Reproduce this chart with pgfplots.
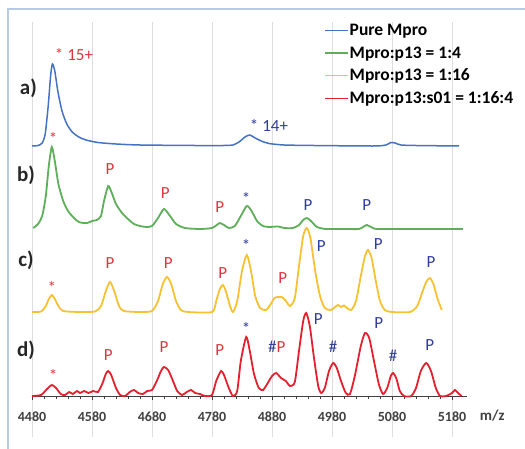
\documentclass[border=0pt]{standalone}
\usepackage{fontspec}
\setmainfont{Carlito}
\usepackage{pgfplots}
\pgfplotsset{compat=1.18}

\definecolor{cBlue}{HTML}{4472C4}
\definecolor{cGreen}{HTML}{5EAE5A}
\definecolor{cYellow}{HTML}{F6C232}
\definecolor{cRed}{HTML}{E4202E}
\definecolor{lRed}{HTML}{E0353F}
\definecolor{lBlue}{HTML}{2F3D9C}
\definecolor{frameC}{HTML}{B8CAE4}

% spectra, stacked with fixed offsets (a: 250, b: 167, c: 84, d: 0)
\pgfplotstableread{
mz y
4480 250
4490 250.5
4497 253
4502 262
4507 290
4511 320
4514 332
4518 325
4523 305
4530 285
4538 272
4547 264
4558 259
4570 256
4590 253.5
4620 252
4660 251
4750 250.5
4800 250.5
4815 251
4825 254
4835 259
4843 261
4852 258
4862 255
4875 252.5
4900 251
4950 250.5
5050 250
5070 251
5078 253.5
5085 253
5095 251
5120 250.5
5192 250
}\pure

\pgfplotstableread{
mz y
4482 168
4490 172
4497 180
4503 200
4508 230
4513 249
4518 235
4524 212
4532 195
4540 185
4550 178
4558 174
4566 173
4572 173
4580 175
4588 176
4595 180
4600 195
4607 210
4613 203
4620 192
4630 183
4640 177
4650 172
4660 170
4670 169
4680 170
4690 178
4700 187
4710 180
4720 172
4735 168
4760 167
4780 168
4788 171
4793 173
4800 171
4808 168
4818 170
4828 180
4838 190
4846 185
4855 175
4865 170
4875 169
4890 169.5
4900 168
4915 168
4925 171
4932 176
4938 178
4945 175
4955 169
4970 167
5000 167
5025 167
5033 169.5
5038 171
5045 169
5055 167
5100 167
5198 167
}\mixA

\pgfplotstableread{
mz y
4480 84
4495 84.5
4503 90
4508 97
4513 101
4518 97
4524 90
4532 85
4560 84
4585 84.5
4595 90
4603 105
4610 114
4617 105
4625 90
4633 85
4660 84
4680 85
4690 95
4698 112
4705 119
4712 112
4720 95
4728 86
4740 84
4780 84
4787 95
4793 107
4798 111
4803 105
4810 90
4815 84
4822 95
4830 125
4838 141
4845 125
4852 100
4860 88
4870 86
4878 92
4884 98
4890 99
4896 99
4902 96
4910 90
4918 98
4925 130
4932 160
4938 168
4944 158
4952 125
4960 100
4968 88
4978 86
4985 89
4990 91
4995 89
5000 90.5
5005 88
5012 86
5020 95
5028 120
5035 140
5040 146
5046 138
5053 115
5060 95
5068 86
5080 84
5110 84
5122 90
5130 103
5137 114
5143 118
5149 112
5156 97
5163 86
}\mixB

\pgfplotstableread{
mz y
4480 0
4495 1
4505 7
4513 11
4520 8
4528 2
4535 1
4542 4
4548 2
4555 5
4560 3
4567 5
4574 3
4582 5
4590 4
4597 12
4603 22
4607 25
4612 21
4620 8
4627 1
4635 0
4643 4
4650 6
4657 3
4665 2
4672 5
4680 6
4688 15
4695 25
4700 29
4707 26
4715 15
4722 5
4730 1
4738 4
4745 6
4752 3
4760 2
4768 0
4780 1
4787 15
4795 25
4800 21
4808 8
4815 0
4822 5
4828 35
4837 59
4843 45
4850 22
4858 8
4865 6
4872 12
4880 20
4887 23
4895 18
4903 15
4910 10
4918 14
4925 45
4932 75
4937 83
4943 70
4950 38
4957 10
4962 3
4968 8
4975 25
4982 33
4988 28
4995 15
5003 3
5010 2
5018 20
5028 50
5035 63
5042 58
5050 35
5058 12
5065 2
5072 8
5078 20
5082 23
5087 18
5093 5
5100 0
5112 0
5120 8
5128 25
5137 33
5145 25
5153 8
5160 0
5170 0
5180 3
5185 6
5190 3
5196 0
}\mixC

\begin{document}
\begin{tikzpicture}
\useasboundingbox (0,0) rectangle (525pt,-449pt);
\draw[frameC, line width=1.2pt] (8pt,-449pt) -- (8pt,-9pt) -- (525pt,-9pt);
\begin{axis}[
  at={(32pt,-437pt)}, anchor=south west,
  scale only axis, width=435pt, height=415pt,
  xmin=4480, xmax=5205, ymin=-41, ymax=374,
  axis x line=middle, axis y line=none,
  axis line style={-, draw=black!75, line width=0.8pt},
  xtick={4480,4580,...,5180}, minor x tick num=4,
  tick align=outside, major tick length=4pt, minor tick length=3pt,
  tick style={black!75, line width=0.8pt},
  xmajorgrids, major grid style={black!13, line width=0.8pt},
  xticklabel style={font=\fontsize{14}{14}\selectfont\bfseries, text=black!75, yshift=-8pt},
  /pgf/number format/.cd, 1000 sep={}, assume math mode=true,
  /pgfplots/.cd,
  clip=false,
  legend style={at={(axis description cs:0.672,1.0)}, anchor=north west, draw=none, fill=none,
    font=\fontsize{17.5}{17.5}\selectfont\bfseries,
    row sep=5.5pt, inner sep=0pt, nodes={inner xsep=1pt}},
  legend cell align=left,
  legend image code/.code={\draw[#1, line width=1.2pt] (0pt,0pt) -- (23pt,0pt);},
]
\addplot[cBlue, line width=1.5pt, smooth, tension=0.4] table {\pure};
\addlegendentry{Pure Mpro}
\addplot[cGreen, line width=1.8pt, smooth, tension=0.4] table {\mixA};
\addlegendentry{Mpro:p13 = 1:4}
\addplot[cYellow, line width=1.8pt, smooth, tension=0.4] table {\mixB};
\addlegendentry{Mpro:p13 = 1:16}
\addplot[cRed, line width=1.8pt, smooth, tension=0.4] table {\mixC};
\addlegendentry{Mpro:p13:s01 = 1:16:4}

% panel labels
\begin{scope}[every node/.style={font=\fontsize{21}{21}\selectfont\bfseries, text=black!85}]
\node at (axis cs:4474,308) {a)};
\node at (axis cs:4470,221) {b)};
\node at (axis cs:4470,136) {c)};
\node at (axis cs:4470,46) {d)};
\end{scope}

% peak annotations
\begin{scope}[every node/.style={font=\fontsize{17}{17}\selectfont}]
\node[text=lRed] at (axis cs:4550,341) {* 15+};
\node[text=lBlue] at (axis cs:4875,271) {* 14+};
% b
\node[text=lRed] at (axis cs:4515,258) {*};
\node[text=lRed] at (axis cs:4610,227) {P};
\node[text=lRed] at (axis cs:4702,203) {P};
\node[text=lRed] at (axis cs:4793,189) {P};
\node[text=lBlue] at (axis cs:4837,198) {*};
\node[text=lBlue] at (axis cs:4940,191) {P};
\node[text=lBlue] at (axis cs:5038,191) {P};
% c
\node[text=lRed] at (axis cs:4513,109) {*};
\node[text=lRed] at (axis cs:4610,133) {P};
\node[text=lRed] at (axis cs:4707,133) {P};
\node[text=lRed] at (axis cs:4798,123) {P};
\node[text=lBlue] at (axis cs:4837,151) {*};
\node[text=lRed] at (axis cs:4898,118) {P};
\node[text=lBlue] at (axis cs:4962,150) {P};
\node[text=lBlue] at (axis cs:5057,152) {P};
\node[text=lBlue] at (axis cs:5145,134) {P};
% d
\node[text=lRed] at (axis cs:4515,21) {*};
\node[text=lRed] at (axis cs:4607,41) {P};
\node[text=lRed] at (axis cs:4700,49) {P};
\node[text=lRed] at (axis cs:4793,46) {P};
\node[text=lBlue] at (axis cs:4837,68) {*};
\node at (axis cs:4888,49) {\textcolor{lBlue}{\#}\textcolor{lRed}{P}};
\node[text=lBlue] at (axis cs:4957,77) {P};
\node[text=lBlue] at (axis cs:4982,49) {\#};
\node[text=lBlue] at (axis cs:5058,73) {P};
\node[text=lBlue] at (axis cs:5082,40) {\#};
\node[text=lBlue] at (axis cs:5143,51) {P};
\end{scope}

\node[font=\fontsize{15}{15}\selectfont\bfseries, text=black!75] at (axis cs:5247,-20) {m/z};
\end{axis}
\end{tikzpicture}
\end{document}
